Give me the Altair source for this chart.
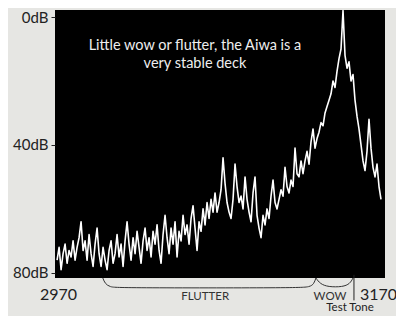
import altair as alt
import pandas as pd

# Spectrum trace: dB below reference, sampled every 1.25 Hz from 2969.4 Hz
freq_start = 2969.4
freq_step = 1.25
level_db = [
    76, 72, 79, 74, 71, 77, 73, 75, 70, 76, 72, 69, 64, 73, 70, 76, 68, 74, 78, 71, 66, 74, 78, 72, 76,
    79, 73, 70, 77, 74, 68, 75, 71, 78, 70, 64, 71, 76, 69, 74, 67, 72, 77, 70, 66, 73, 69, 75, 67, 71,
    65, 73, 77, 68, 62,
    69, 74, 66, 71, 64, 75, 67, 70, 62, 68, 65, 71, 63, 59, 66, 73, 64, 67, 60, 65, 58, 63, 57, 61, 55,
    61, 58, 54, 44, 52, 58, 61, 63, 57, 46, 53, 58, 56, 60, 50, 57, 61, 64, 55, 50, 62, 66, 69, 62, 65,
    60, 63, 56, 51, 58, 60, 57, 54, 56, 47, 53, 55, 51, 53, 41, 49, 50, 45,
    49, 45, 42, 46, 39, 35, 41, 38, 36, 33, 34, 30, 28, 26, 24, 20, 22, 17, 13, 10,
    -2,
    12, 16, 14, 20, 18, 26, 31, 35, 40, 45, 48, 42, 32, 41, 47, 50, 46, 53, 57,
]
freqs = [freq_start + freq_step * i for i in range(len(level_db))]

x_ticks = [2970, 3170]
y_ticks = [0, 40, 80]
x_domain = [2968.1, 3174.4]
y_domain = [-2.2, 81.6]

note_lines = ["Little wow or flutter, the Aiwa is a", "very stable deck"]
note_x = [3055.6, 3055.6]
note_y = [9.0, 14.6]

# Braces under the plot (Hz, dB below the 80dB floor)
brace_group = ["flutter"] * 8 + ["wow"] * 6
brace_x = [2998, 2999.4, 3002.5, 3007.5, 3120, 3127.5, 3130, 3131.2,
           3131.2, 3133.8, 3138.8, 3148, 3152.5, 3154.4]
brace_y = [81.6, 83.4, 84.4, 84.7, 84.7, 84.4, 83.4, 81.6,
           81.6, 83.4, 84.4, 84.4, 83.4, 81.6]

label_text = ["FLUTTER", "WOW"]
label_x = [3062, 3140]
label_y = [87.4, 87.4]

tone_x = [3155, 3155]
tone_y = [80.6, 88.6]
tone_label = ["Test Tone"]
tone_label_x = [3152.5]
tone_label_y = [89.2]

FONT = "Lato"

trace = pd.DataFrame({"freq": freqs, "db": level_db})
xs = alt.Scale(domain=x_domain, nice=False, zero=False)
ys = alt.Scale(domain=y_domain, nice=False, zero=False, reverse=True)

line = alt.Chart(trace).mark_line(color="white", strokeWidth=1.6, strokeJoin="round").encode(
    x=alt.X("freq:Q", scale=xs,
            axis=alt.Axis(values=x_ticks, title=None, grid=False, domain=False, ticks=False,
                          labelFont=FONT, labelFontSize=16, labelColor="#222", labelPadding=8,
                          labelFlush=False, format="d")),
    y=alt.Y("db:Q", scale=ys,
            axis=alt.Axis(values=y_ticks, title=None, grid=False, domain=False, ticks=True,
                          tickSize=4, tickColor="#222", labelFont=FONT, labelFontSize=15,
                          labelColor="#222", labelPadding=3, labelExpr="datum.value + 'dB'",
                          labelFlush=False)),
)

note = alt.Chart(pd.DataFrame({"t": note_lines, "x": note_x, "y": note_y})).mark_text(
    color="#eeeeee", font=FONT, fontSize=14.5, align="center", baseline="middle"
).encode(x=alt.X("x:Q", scale=xs), y=alt.Y("y:Q", scale=ys), text="t:N")

braces = alt.Chart(pd.DataFrame({"g": brace_group, "x": brace_x, "y": brace_y})).mark_line(
    color="#333", strokeWidth=1, interpolate="basis"
).encode(x=alt.X("x:Q", scale=xs), y=alt.Y("y:Q", scale=ys), detail="g:N")

labels = alt.Chart(pd.DataFrame({"t": label_text, "x": label_x, "y": label_y})).mark_text(
    color="#333", font=FONT, fontSize=11.5, align="center", baseline="middle"
).encode(x=alt.X("x:Q", scale=xs), y=alt.Y("y:Q", scale=ys), text="t:N")

tone = alt.Chart(pd.DataFrame({"x": tone_x, "y": tone_y})).mark_line(
    color="#222", strokeWidth=1
).encode(x=alt.X("x:Q", scale=xs), y=alt.Y("y:Q", scale=ys))

tone_text = alt.Chart(pd.DataFrame({"t": tone_label, "x": tone_label_x, "y": tone_label_y})).mark_text(
    color="#222", font=FONT, fontSize=11.5, align="center", baseline="top"
).encode(x=alt.X("x:Q", scale=xs), y=alt.Y("y:Q", scale=ys), text="t:N")

chart = alt.layer(line, note, braces, labels, tone, tone_text).properties(
    width=330, height=268,
    background="#e6e6e3",
    padding={"left": 47, "top": 2, "right": 11, "bottom": 38},
    autosize=alt.AutoSizeParams(type="none"),
).configure_view(fill="black", stroke=None)

chart.save("out.html", embed_options={"renderer": "svg", "actions": False})
